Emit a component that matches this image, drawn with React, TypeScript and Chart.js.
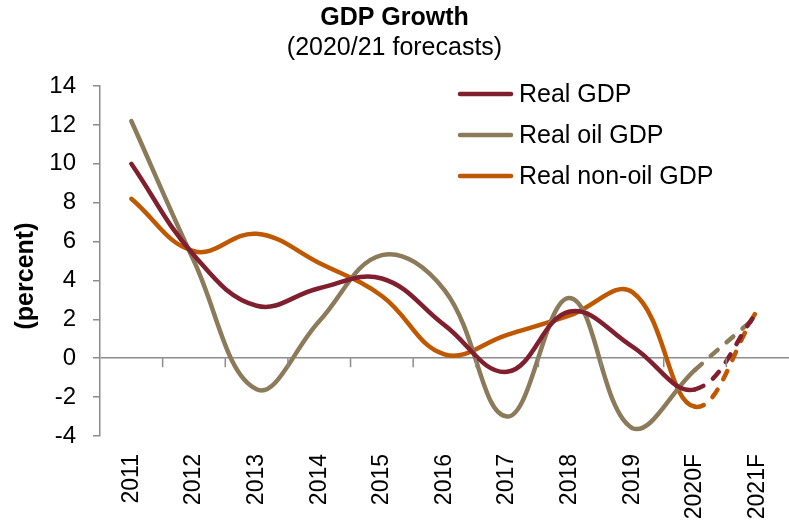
import React, { useEffect, useRef } from "react";
import { Chart, registerables } from "chart.js";

Chart.register(...registerables);

const categories = ["2011", "2012", "2013", "2014", "2015", "2016", "2017", "2018", "2019", "2020F", "2021F"];
const realGDP = [10.0, 5.3, 2.7, 3.6, 4.1, 1.7, -0.7, 2.4, 0.6, -1.6, 2.4];
const realOilGDP = [12.2, 5.0, -1.6, 1.9, 5.3, 3.5, -3.0, 3.1, -3.6, -0.6, 2.2];
const realNonOilGDP = [8.2, 5.5, 6.4, 4.9, 3.2, 0.2, 1.2, 2.2, 3.4, -2.5, 2.5];
const yTicks = [-4, -2, 0, 2, 4, 6, 8, 10, 12, 14];

const FONT = "'Liberation Sans', Arial, sans-serif";
const AXIS_GRAY = "#8c8c8c";
const COLORS = ["#80202f", "#8c7b5b", "#c05800"];
const LABELS = ["Real GDP", "Real oil GDP", "Real non-oil GDP"];

const extrasPlugin = {
  id: "extras",
  afterDatasetsDraw(chart: any) {
    const ctx = chart.ctx;
    const x = chart.scales.x;
    const y = chart.scales.y;
    const y0 = y.getPixelForValue(0);
    ctx.save();
    ctx.strokeStyle = AXIS_GRAY;
    ctx.lineWidth = 1.5;
    for (let i = 1; i < categories.length; i++) {
      const bx = (x.getPixelForValue(i - 1) + x.getPixelForValue(i)) / 2;
      ctx.beginPath();
      ctx.moveTo(bx, y0);
      ctx.lineTo(bx, y0 + 9);
      ctx.stroke();
    }
    ctx.restore();
  },
  afterDraw(chart: any) {
    const ctx = chart.ctx;
    ctx.save();
    ctx.font = `25px ${FONT}`;
    ctx.textBaseline = "middle";
    ctx.textAlign = "left";
    chart.data.datasets.forEach((ds: any, i: number) => {
      const ly = 94 + i * 41;
      ctx.strokeStyle = ds.borderColor;
      ctx.lineWidth = 4.5;
      ctx.lineCap = "round";
      ctx.setLineDash([]);
      ctx.beginPath();
      ctx.moveTo(460, ly);
      ctx.lineTo(511, ly);
      ctx.stroke();
      ctx.fillStyle = "#000";
      ctx.fillText(ds.label, 519, ly + 1);
    });
    ctx.translate(25, 276);
    ctx.rotate(-Math.PI / 2);
    ctx.font = `bold 25px ${FONT}`;
    ctx.textAlign = "center";
    ctx.textBaseline = "middle";
    ctx.fillStyle = "#000";
    ctx.fillText("(percent)", 0, 1);
    ctx.restore();
  },
};

export default function App() {
  const ref = useRef<HTMLCanvasElement | null>(null);
  useEffect(() => {
    if (!ref.current) return;
    const series = [realGDP, realOilGDP, realNonOilGDP];
    const chart = new Chart(ref.current, {
      type: "line",
      data: {
        labels: categories,
        datasets: series.map((d, i) => ({
          label: LABELS[i],
          data: d,
          borderColor: COLORS[i],
          backgroundColor: COLORS[i],
          borderWidth: 4.5,
          borderCapStyle: "round",
          borderJoinStyle: "round",
          pointRadius: 0,
          tension: 0.4,
          segment: {
            borderDash: (c: any) => (c.p1DataIndex === categories.length - 1 ? [9, 12] : undefined),
          },
        })),
      },
      options: {
        animation: false,
        responsive: true,
        maintainAspectRatio: false,
        layout: { padding: 0 },
        plugins: {
          legend: { display: false },
          tooltip: { enabled: false },
          title: {
            display: true,
            text: "GDP Growth",
            color: "#000",
            font: { family: FONT, size: 25, weight: "bold", lineHeight: 1.2 },
            padding: { top: 3, bottom: 0 },
          },
          subtitle: {
            display: true,
            text: "(2020/21 forecasts)",
            color: "#000",
            font: { family: FONT, size: 25, lineHeight: 1.2 },
            padding: { top: 0, bottom: 23 },
          },
        },
        scales: {
          x: {
            type: "category",
            offset: true,
            grid: { display: false, drawTicks: false },
            border: { display: false },
            ticks: {
              color: "#000",
              font: { family: FONT, size: 23 },
              minRotation: 90,
              maxRotation: 90,
              padding: 18,
              autoSkip: false,
            },
            afterFit: (s: any) => {
              s.height = 92;
              s.paddingLeft = 0;
              s.paddingRight = 0;
            },
          },
          y: {
            min: -4,
            max: 14,
            afterBuildTicks: (s: any) => {
              s.ticks = yTicks.map((v) => ({ value: v }));
            },
            grid: {
              color: (c: any) => (c.tick && c.tick.value === 0 ? AXIS_GRAY : "rgba(0,0,0,0)"),
              lineWidth: 1.5,
              tickColor: AXIS_GRAY,
              tickLength: 7,
              drawTicks: true,
            },
            border: { display: true, color: AXIS_GRAY, width: 1.5 },
            ticks: {
              color: "#000",
              font: { family: FONT, size: 24 },
              padding: 17,
            },
            afterFit: (s: any) => {
              s.width = 100;
            },
          },
        },
      },
      plugins: [extrasPlugin],
    } as any);
    return () => chart.destroy();
  }, []);
  return (
    <div style={{ position: "fixed", left: 0, top: 0, width: 789, height: 528 }}>
      <canvas ref={ref} />
    </div>
  );
}
